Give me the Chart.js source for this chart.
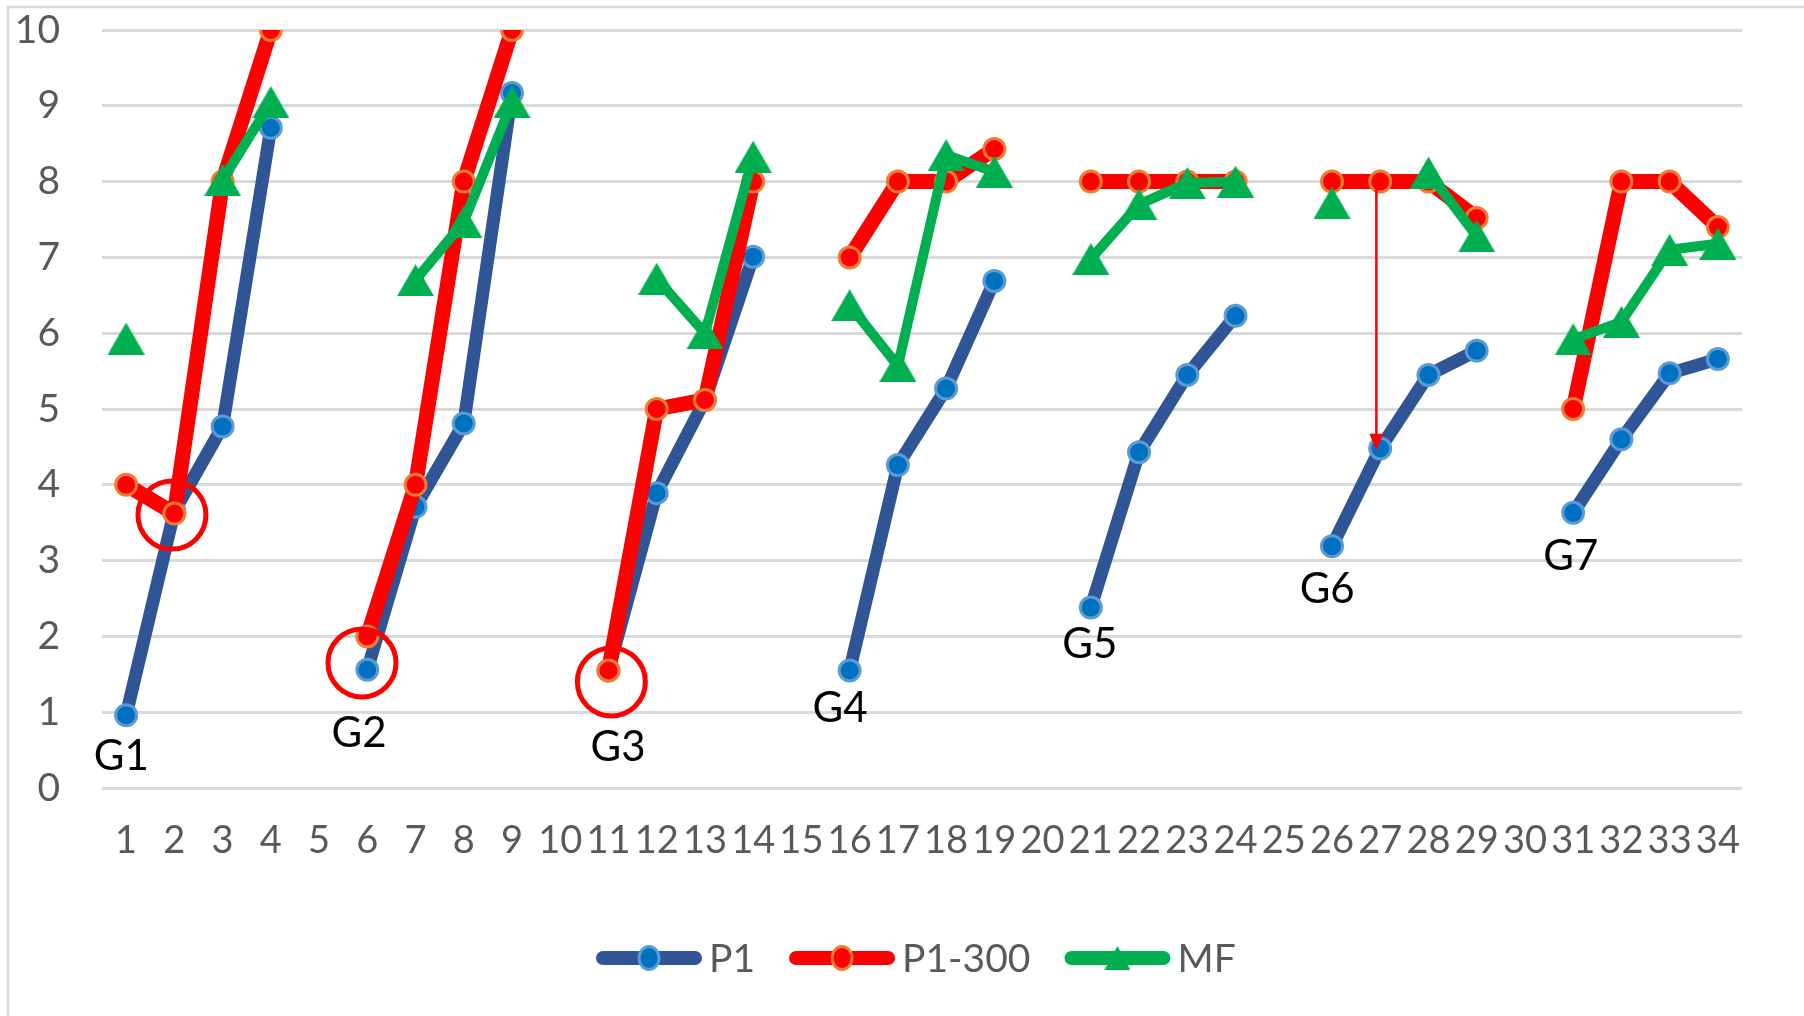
<!DOCTYPE html>
<html>
<head>
<meta charset="utf-8">
<script src="https://cdn.jsdelivr.net/npm/chart.js@4.4.1/dist/chart.umd.min.js"></script>
<style>
html, body { margin: 0; padding: 0; background: #fff; }
canvas { display: block; }
</style>
</head>
<body>
<canvas id="chart" width="1804" height="1016"></canvas>
<script>
// categories along the x axis
const categories = ["1", "2", "3", "4", "5", "6", "7", "8", "9", "10",
    "11", "12", "13", "14", "15", "16", "17", "18", "19", "20",
    "21", "22", "23", "24", "25", "26", "27", "28", "29", "30",
    "31", "32", "33", "34"];

// series values (null = gap between groups)
const p1 = [0.96, 3.65, 4.77, 8.71, null, 1.56, 3.71, 4.81, 9.17, null,
    1.55, 3.89, 5.12, 7.01, null, 1.55, 4.26, 5.27, 6.69, null,
    2.38, 4.43, 5.45, 6.23, null, 3.19, 4.48, 5.45, 5.77, null,
    3.63, 4.60, 5.47, 5.66];
const p1_300 = [4.0, 3.62, 8.0, 10.0, null, 2.0, 4.0, 8.0, 10.0, null,
    1.55, 5.0, 5.12, 8.0, null, 7.0, 8.0, 8.0, 8.43, null,
    8.0, 8.0, 8.0, 8.0, null, 8.0, 8.0, 8.0, 7.52, null,
    5.0, 8.0, 8.0, 7.4];
const mf = [5.93, null, 8.02, 9.05, null, null, 6.7, 7.47, 9.05, null,
    null, 6.72, 6.0, 8.33, null, 6.37, 5.57, 8.35, 8.13, null,
    6.98, 7.7, 7.98, 8.0, null, 7.72, null, 8.12, 7.28, null,
    5.92, 6.15, 7.1, 7.18];

// y axis ticks
const yMin = 0, yMax = 10, yStep = 1;

// group labels (x = category index, y = value)
const groupLabels = ["G1", "G2", "G3", "G4", "G5", "G6", "G7"];
const groupLabelX = [-0.1, 4.83, 10.2, 14.8, 19.98, 24.9, 29.95];
const groupLabelY = [0.41, 0.72, 0.53, 1.05, 1.9, 2.62, 3.05];

// red circles and the arrow (data coords)
const circleX = [0.95, 4.89, 10.06];
const circleY = [3.6, 1.65, 1.4];
const arrowX = 25.92, arrowFrom = 8.0, arrowTo = 4.45;

const FONT = "Lato";
const GREY = "#595959";

function triangle(w, h, color) {
    const c = document.createElement("canvas");
    c.width = w; c.height = h;
    const g = c.getContext("2d");
    g.fillStyle = color;
    g.beginPath();
    g.moveTo(w / 2, 0);
    g.lineTo(w, h);
    g.lineTo(0, h);
    g.closePath();
    g.fill();
    return c;
}
const triBig = triangle(37, 32, "#00B050");
const triSmall = triangle(26, 24, "#00B050");

const extras = {
    id: "extras",
    beforeDraw(chart) {
        const ctx = chart.ctx;
        ctx.save();
        ctx.strokeStyle = "#D9D9D9";
        ctx.lineWidth = 2.5;
        ctx.beginPath();
        ctx.moveTo(8, 1100);
        ctx.lineTo(8, 7);
        ctx.lineTo(1900, 7);
        ctx.stroke();
        ctx.restore();
    },
    afterDatasetsDraw(chart) {
        const ctx = chart.ctx;
        const xs = chart.scales.x, ys = chart.scales.y;
        ctx.save();

        // circles
        ctx.strokeStyle = "#FF0000";
        ctx.lineWidth = 5;
        for (let i = 0; i < circleX.length; i++) {
            ctx.beginPath();
            ctx.arc(xs.getPixelForValue(circleX[i]), ys.getPixelForValue(circleY[i]), 34, 0, Math.PI * 2);
            ctx.stroke();
        }

        // arrow
        const ax = xs.getPixelForValue(arrowX);
        const ay1 = ys.getPixelForValue(arrowFrom);
        const ay2 = ys.getPixelForValue(arrowTo);
        ctx.lineWidth = 2.5;
        ctx.beginPath();
        ctx.moveTo(ax, ay1);
        ctx.lineTo(ax, ay2 - 14);
        ctx.stroke();
        ctx.fillStyle = "#FF0000";
        ctx.beginPath();
        ctx.moveTo(ax, ay2);
        ctx.lineTo(ax - 7, ay2 - 17);
        ctx.lineTo(ax + 7, ay2 - 17);
        ctx.closePath();
        ctx.fill();

        // group labels
        ctx.fillStyle = "#000";
        ctx.font = "42px " + FONT;
        ctx.textAlign = "center";
        ctx.textBaseline = "middle";
        for (let i = 0; i < groupLabels.length; i++) {
            ctx.fillText(groupLabels[i], xs.getPixelForValue(groupLabelX[i]), ys.getPixelForValue(groupLabelY[i]));
        }
        ctx.restore();
    },
    afterDraw(chart) {
        // legend: line + marker + text
        const ctx = chart.ctx;
        ctx.save();
        ctx.font = "39px " + FONT;
        ctx.textBaseline = "middle";
        ctx.textAlign = "left";
        let x = 596;
        const cy = 958;
        chart.data.datasets.forEach(ds => {
            ctx.strokeStyle = ds.borderColor;
            ctx.lineWidth = 14;
            ctx.lineCap = "round";
            ctx.beginPath();
            ctx.moveTo(x + 7, cy);
            ctx.lineTo(x + 99, cy);
            ctx.stroke();
            const mx = x + 53;
            if (ds.pointStyle === triBig) {
                ctx.drawImage(triSmall, mx - 13, cy - 12);
            } else {
                ctx.fillStyle = ds.pointBackgroundColor;
                ctx.strokeStyle = ds.pointBorderColor;
                ctx.lineWidth = 3;
                ctx.beginPath();
                ctx.ellipse(mx, cy, 10, 11.5, 0, 0, Math.PI * 2);
                ctx.fill();
                ctx.stroke();
            }
            ctx.fillStyle = GREY;
            ctx.fillText(ds.label, x + 113, cy + 1);
            x += 113 + ctx.measureText(ds.label).width + 34;
        });
        ctx.restore();
    }
};

new Chart(document.getElementById("chart"), {
    type: "line",
    data: {
        labels: categories,
        datasets: [{
            label: "P1",
            data: p1,
            borderColor: "#2F5597",
            borderWidth: 13,
            pointRadius: 10.5,
            pointBackgroundColor: "#0070C0",
            pointBorderColor: "#5B9BD5",
            pointBorderWidth: 3,
            borderJoinStyle: "round",
            borderCapStyle: "round",
            order: 3
        }, {
            label: "P1-300",
            data: p1_300,
            borderColor: "#FF0000",
            borderWidth: 15,
            pointRadius: 10.5,
            pointBackgroundColor: "#FF0000",
            pointBorderColor: "#ED7D31",
            pointBorderWidth: 3,
            borderJoinStyle: "round",
            borderCapStyle: "round",
            order: 2
        }, {
            label: "MF",
            data: mf,
            borderColor: "#00B050",
            borderWidth: 10,
            pointStyle: triBig,
            pointRadius: 16,
            pointBackgroundColor: "#00B050",
            borderJoinStyle: "round",
            borderCapStyle: "round",
            order: 1
        }]
    },
    options: {
        responsive: false,
        devicePixelRatio: 1,
        animation: false,
        spanGaps: false,
        layout: { padding: { top: 30, right: 62, bottom: 128, left: 0 } },
        plugins: {
            legend: { display: false },
            tooltip: { enabled: false }
        },
        scales: {
            x: {
                offset: true,
                grid: { display: false, drawTicks: false },
                border: { display: false },
                ticks: {
                    color: GREY,
                    font: { family: FONT, size: 38 },
                    padding: 30,
                    autoSkip: false,
                    maxRotation: 0,
                    minRotation: 0
                },
                afterFit(s) { s.height = 100; s.paddingLeft = 0; s.paddingRight = 0; }
            },
            y: {
                min: yMin,
                max: yMax,
                grid: { color: "#D9D9D9", lineWidth: 3, drawTicks: false },
                border: { display: false },
                ticks: {
                    stepSize: yStep,
                    color: GREY,
                    font: { family: FONT, size: 39 },
                    padding: 42
                },
                afterFit(s) { s.width = 102; s.paddingTop = 0; s.paddingBottom = 0; }
            }
        }
    },
    plugins: [extras]
});
</script>
</body>
</html>
